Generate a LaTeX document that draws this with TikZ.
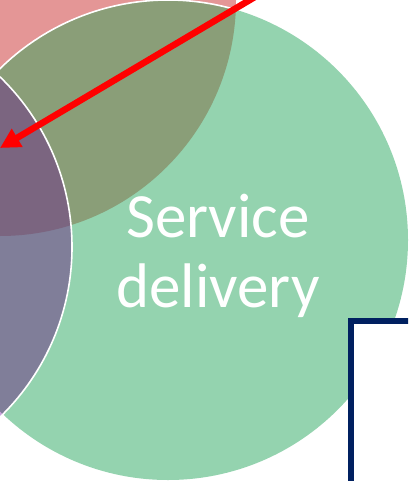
\documentclass[tikz,border=0pt]{standalone}
\usepackage{fontspec}
\setmainfont{Carlito}
\usetikzlibrary{arrows.meta}
\definecolor{cgreen}{HTML}{94D3AF}
\definecolor{cpink}{HTML}{E49696}
\definecolor{colive}{HTML}{8A9E78}
\definecolor{cmauve}{HTML}{7B6580}
\definecolor{cgrey}{HTML}{807E99}
\definecolor{clav}{HTML}{C8A0DC}
\definecolor{cnavy}{HTML}{002060}
\definecolor{cred}{HTML}{FF0000}
\tikzset{
  outline/.style={draw=white, line width=1.6pt},
  label/.style={text=white, inner sep=0pt, font=\fontsize{63}{70}\selectfont},
  redarrow/.style={draw=cred, line width=6.5pt, -{Triangle[length=20pt,width=20pt]}},
  navybox/.style={draw=cnavy, fill=white, line width=6pt}
}
\begin{document}
\begin{tikzpicture}[x=1pt,y=-1pt]
\useasboundingbox (0,0) rectangle (408,481);
\clip (0,0) rectangle (408,481);
\def\G{(168,240) circle[radius=240pt]}
\def\P{(-165,247) circle[radius=237pt]}
\def\K{(0,0) circle[radius=236pt]}
\fill[cpink] \K;
\fill[cgreen] \G;
\fill[clav] \P;
\begin{scope}
  \clip \K;
  \fill[colive] \G;
\end{scope}
\begin{scope}
  \clip \P;
  \fill[cgrey] \G;
  \clip \K;
  \fill[cmauve] \G;
\end{scope}
\begin{scope}
  \clip \K;
  \draw[outline] \G;
\end{scope}
\draw[outline] \P;
\node[label, anchor=base] (l1) at (218,237) {Service};
\node[label, anchor=base] (l2) at (218,307) {delivery};
\coordinate (as) at (265,-9);
\coordinate (ae) at (0,148);
\draw[redarrow] (as) -- (ae);
\node[navybox, anchor=north west, minimum width=80pt, minimum height=200pt] (box) at (348,318) {};
\end{tikzpicture}
\end{document}
